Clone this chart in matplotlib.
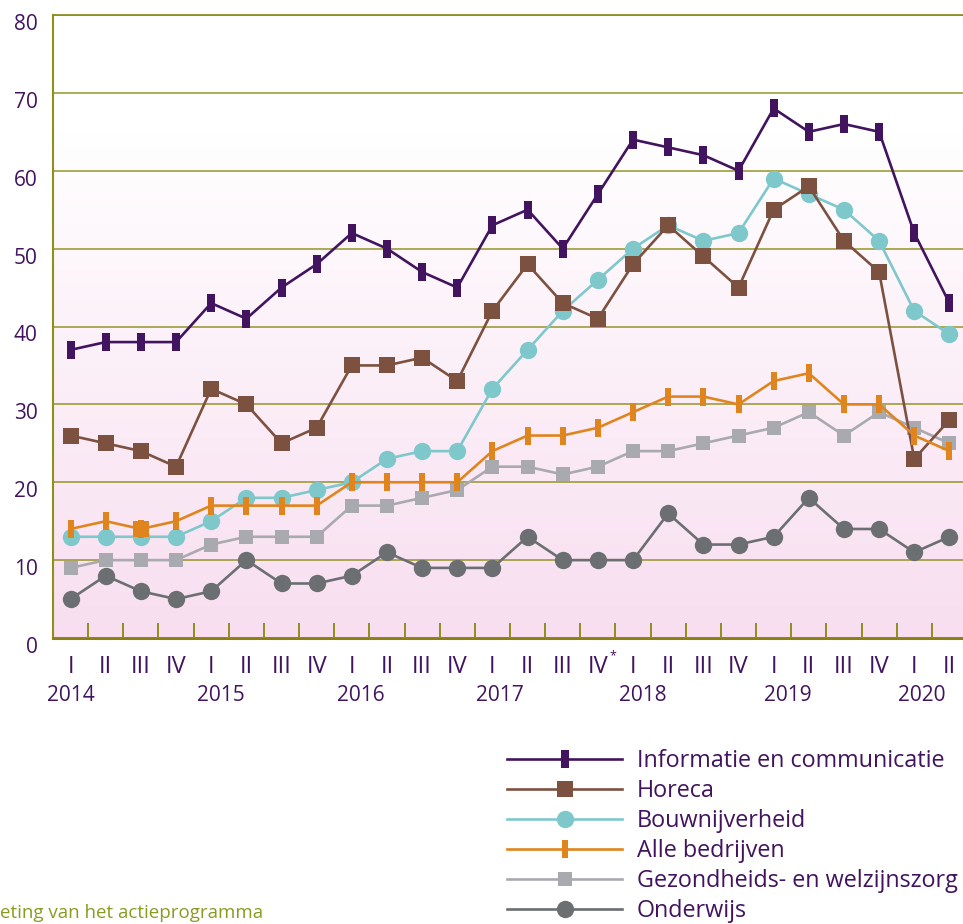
import numpy as np
import matplotlib
matplotlib.use("Agg")
import matplotlib.pyplot as plt
import matplotlib.transforms as mtransforms

# ---------------- data ----------------
quarters = ["I", "II", "III", "IV"] * 6 + ["I", "II"]
years = ["2014", "2015", "2016", "2017", "2018", "2019", "2020"]
year_pos = [0.0, 4.27, 8.27, 12.2, 16.27, 20.4, 24.2]

informatie = [37, 38, 38, 38, 43, 41, 45, 48, 52, 50, 47, 45, 53, 55, 50, 57,
              64, 63, 62, 60, 68, 65, 66, 65, 52, 43]
horeca = [26, 25, 24, 22, 32, 30, 25, 27, 35, 35, 36, 33, 42, 48, 43, 41,
          48, 53, 49, 45, 55, 58, 51, 47, 23, 28]
bouw = [13, 13, 13, 13, 15, 18, 18, 19, 20, 23, 24, 24, 32, 37, 42, 46,
        50, 53, 51, 52, 59, 57, 55, 51, 42, 39]
alle = [14, 15, 14, 15, 17, 17, 17, 17, 20, 20, 20, 20, 24, 26, 26, 27,
        29, 31, 31, 30, 33, 34, 30, 30, 26, 24]
gezond = [9, 10, 10, 10, 12, 13, 13, 13, 17, 17, 18, 19, 22, 22, 21, 22,
          24, 24, 25, 26, 27, 29, 26, 29, 27, 25]
onderwijs = [5, 8, 6, 5, 6, 10, 7, 7, 8, 11, 9, 9, 9, 13, 10, 10,
             10, 16, 12, 12, 13, 18, 14, 14, 11, 13]

labels = ["Informatie en communicatie", "Horeca", "Bouwnijverheid",
          "Alle bedrijven", "Gezondheids- en welzijnszorg", "Onderwijs"]

# ---------------- style ----------------
plt.rcParams['font.family'] = ['Open Sans', 'DejaVu Sans']
PURPLE = "#42145f"
BROWN = "#7d5140"
CYAN = "#7ec8cc"
ORANGE = "#e0851e"
LGRAY = "#a8aab0"
DGRAY = "#6b6f72"
OLIVE = "#8f8f1c"
TEXTOLIVE = "#8b9a22"

bar = [(-0.19, -0.5), (0.19, -0.5), (0.19, 0.5), (-0.19, 0.5), (-0.19, -0.5)]

fig = plt.figure(figsize=(9.63, 9.24), dpi=100)
ax = fig.add_axes([53 / 963, 286 / 924, 914 / 963, 623 / 924])

x = np.arange(len(quarters))
ax.set_xlim(-0.5, len(quarters) - 0.5)
ax.set_ylim(0, 80)

# background gradient
vals = np.linspace(0, 80, 256)
frac = np.clip(vals / 65.0, 0, 1)
bottom = np.array([248, 222, 240]) / 255.0
top = np.array([1.0, 1.0, 1.0])
grad = bottom[None, :] * (1 - frac[:, None]) + top[None, :] * frac[:, None]
ax.imshow(grad[:, None, :], extent=[-0.5, len(quarters) - 0.5, 0, 80],
          origin="lower", aspect="auto", zorder=0, interpolation="bilinear")

lw = 1.9
series = [
    (onderwijs, DGRAY, "o", 12.5, 1),
    (gezond, LGRAY, "s", 10.5, 2),
    (bouw, CYAN, "o", 12.5, 3),
    (horeca, BROWN, "s", 11, 4),
    (alle, ORANGE, bar, 13, 5),
    (informatie, PURPLE, bar, 13.5, 6),
]
handles = {}
for data, col, mk, ms, z in series:
    ln, = ax.plot(x, data, color=col, lw=lw, marker=mk, ms=ms, mew=0,
                  mfc=col, zorder=z + 2, clip_on=False)
    handles[col] = ln
# one marker drawn as a square in the original
ax.plot(x[2], alle[2], marker="s", ms=11, mew=0, color=ORANGE, zorder=7)

# grid & spines
ax.set_yticks(np.arange(0, 81, 10))
ax.yaxis.grid(True, color=OLIVE, lw=1.3, alpha=0.8, zorder=1)
ax.set_axisbelow(False)
ax.spines["right"].set_visible(False)
ax.spines["top"].set_color(OLIVE)
ax.spines["top"].set_linewidth(1.3)
ax.spines["left"].set_color(OLIVE)
ax.spines["left"].set_linewidth(1.5)
ax.spines["bottom"].set_color("#8c7d14")
ax.spines["bottom"].set_linewidth(2.2)
for sp in ax.spines.values():
    sp.set_zorder(2)

ax.tick_params(axis="y", length=0, pad=11, labelsize=15, labelcolor=PURPLE)
ax.set_yticklabels([str(v) for v in range(0, 81, 10)])
off = mtransforms.ScaledTranslation(0, -5 / 72, fig.dpi_scale_trans)
for lab in ax.get_yticklabels():
    lab.set_transform(lab.get_transform() + off)

ax.set_xticks(x)
ax.set_xticklabels(quarters)
ax.tick_params(axis="x", which="major", length=0, pad=12, labelsize=17,
               labelcolor=PURPLE)
ax.set_xticks(np.arange(0.5, len(quarters) - 0.5, 1), minor=True)
ax.tick_params(axis="x", which="minor", direction="in", length=11,
               width=1.4, color=OLIVE)

# asterisk on IV of 2017
tr = mtransforms.blended_transform_factory(ax.transData, ax.transAxes)
ax.text(15 + 0.44, -0.029, "*", transform=tr, color=PURPLE, fontsize=9,
        ha="center", va="center")

for yr, p in zip(years, year_pos):
    ax.text(p, -0.093, yr, transform=tr, color=PURPLE, fontsize=15,
            ha="center", va="center")

# legend
order = [PURPLE, BROWN, CYAN, ORANGE, LGRAY, DGRAY]
leg = fig.legend([handles[c] for c in order], labels, loc="upper left",
                 bbox_to_anchor=(507 / 963, 1 - 749 / 924), frameon=False,
                 fontsize=16.8, handlelength=4.93, handletextpad=0.64,
                 labelspacing=0.26, borderaxespad=0, borderpad=0,
                 numpoints=1)
for t in leg.get_texts():
    t.set_color(PURPLE)

fig.text(0.0, 1 - 913 / 924, "eting van het actieprogramma", color=TEXTOLIVE,
         fontsize=13.5, ha="left", va="center")

fig.savefig("out.png", dpi=100)
